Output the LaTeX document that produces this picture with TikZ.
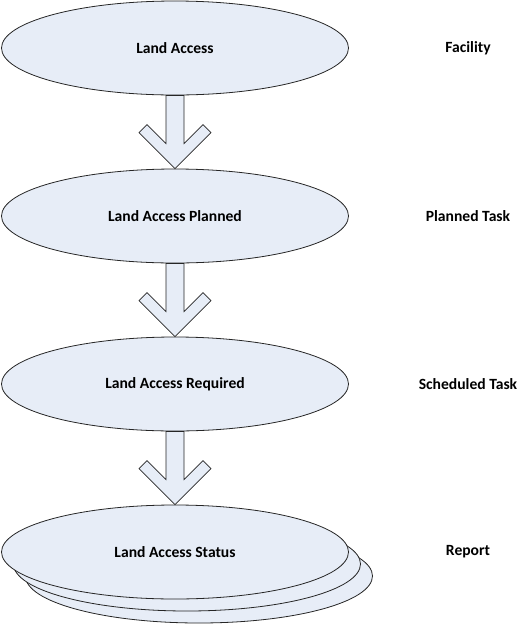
\documentclass[tikz,border=0pt]{standalone}
\usepackage{fontspec}
\setmainfont{Carlito}
\usetikzlibrary{shapes.geometric}

\definecolor{stagefill}{HTML}{E7EDF7}

\tikzset{
  stage/.style={ellipse, draw=black!85, line width=0.8pt, fill=stagefill,
    minimum width=347pt, minimum height=94pt, inner sep=0pt,
    font=\fontsize{15.6}{18}\selectfont\bfseries},
  level/.style={font=\fontsize{15.6}{18}\selectfont\bfseries},
  blockarrow/.style={draw=black!85, line width=0.7pt, fill=stagefill, line join=miter}
}

\begin{document}
\begin{tikzpicture}[x=1pt, y=1pt]
  \useasboundingbox (0,0) rectangle (520,-625);

  % Report stack, back copies
  \foreach \d/\n in {24/statC, 12/statB}
    \node[stage] (\n) at (175+\d,-552-\d) {};

  % Stages
  \foreach \n/\y/\t in {acc/48/Land Access, plan/216/Land Access Planned,
                        req/384/Land Access Required, stat/552/Land Access Status}
    \node[stage] (\n) at (175,-\y) {\t};

  % Levels on the right
  \foreach \n/\y/\t in {fac/48/Facility, ptask/216/Planned Task,
                        stask/384/Scheduled Task, rep/552/Report}
    \node[level] (\n) at (468,-\y) {\t};

  % Block arrows between stages
  \foreach \a/\b in {acc/plan, plan/req, req/stat}
    \draw[blockarrow] ([xshift=-9pt]\a.south) -- ([shift={(-9,25)}]\b.north)
      -- ([shift={(-28,44)}]\b.north) -- ([shift={(-36,36)}]\b.north)
      -- (\b.north) -- ([shift={(36,36)}]\b.north)
      -- ([shift={(28,44)}]\b.north) -- ([shift={(9,25)}]\b.north)
      -- ([xshift=9pt]\a.south) -- cycle;
\end{tikzpicture}
\end{document}
